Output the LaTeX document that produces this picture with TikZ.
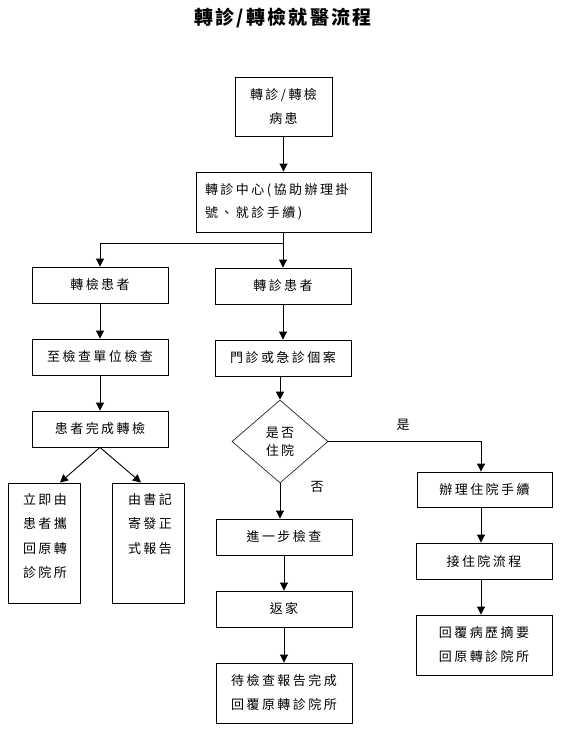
\documentclass[tikz,border=0pt]{standalone}
\usepackage{fontspec}
\setmainfont{Noto Sans CJK TC}[LetterSpace=19]
\newfontfamily\titlefont{Noto Sans CJK TC}[LetterSpace=12]
\usetikzlibrary{arrows.meta,shapes.geometric}
\begin{document}
\begin{tikzpicture}[x=1pt,y=-1pt,
  box/.style={draw, line width=0.9pt, inner sep=0pt, align=center,
    font=\fontsize{13}{24}\selectfont},
  sbox/.style={box, minimum width=136pt, minimum height=36pt},
  tbox/.style={box, minimum width=136pt, minimum height=60pt},
  decision/.style={draw=black!85, line width=0.7pt, shape=diamond, inner sep=0pt,
    minimum width=96pt, minimum height=83pt, align=center,
    font=\fontsize{13}{18}\selectfont},
  lbl/.style={inner sep=0pt, font=\fontsize{13}{24}\selectfont},
  arr/.style={line width=0.9pt, -{Triangle[width=8pt,length=8pt]}},
  ln/.style={line width=0.9pt}]
\useasboundingbox (0,0) rectangle (566,731);
% title
\node[inner sep=0pt, font=\titlefont\bfseries\fontsize{19}{20}\selectfont] (title) at (283,18) {轉診/轉檢就醫流程};
% top
\node[box, minimum width=97pt, minimum height=59pt] (p) at (283.5,106.5) {轉診/轉檢\\病患};
\node[box, minimum width=175pt, minimum height=60pt, align=left, text width=157pt,
  font=\fontsize{13}{23}\selectfont] (c) at (283.5,202) {轉診中心(協助辦理掛\\號、就診手續)};
% left column
\node[sbox] (zj) at (100,285) {轉檢患者};
\node[sbox] (zc) at (100,357) {至檢查單位檢查};
\node[sbox] (wc) at (100,429) {患者完成轉檢};
\node[box, minimum width=72pt, minimum height=120pt] (L1) at (44,543) {};
\node[box, minimum width=72pt, minimum height=120pt] (R1) at (148,543) {};
\node[lbl, anchor=north, align=left, font=\fontsize{13}{24.5}\selectfont] (L1t) at (45,493) {立即由\\患者攜\\回原轉\\診院所};
\node[lbl, anchor=north, align=left, font=\fontsize{13}{24.5}\selectfont] (R1t) at (150,493) {由書記\\寄發正\\式報告};
% middle column
\node[sbox] (zz) at (283,286) {轉診患者};
\node[sbox] (mz) at (283,358) {門診或急診個案};
\node[decision] (d) at (280,441.5) {是否\\住院};
\node[sbox] (jin) at (284,537) {進一步檢查};
\node[sbox] (fan) at (284,609) {返家};
\node[tbox] (dai) at (284,693) {待檢查報告完成\\回覆原轉診院所};
% right column
\node[box, minimum width=135pt, minimum height=35pt] (bl) at (484.5,489.5) {辦理住院手續};
\node[sbox] (jie) at (484,561) {接住院流程};
\node[tbox] (hui) at (484,645) {回覆病歷摘要\\回原轉診院所};
% labels
\node[lbl] (yes) at (403,425) {是};
\node[lbl] (no) at (317,487) {否};
% connectors
\coordinate (br) at (283,243);
\draw[arr] (p.south) -- (p.south |- c.north);
\draw[arr] (c.south -| zz.north) -- (zz.north);
\draw[arr] (br) -| (zj.north);
\draw[arr] (zj) -- (zc);
\draw[arr] (zc) -- (wc);
\draw[arr] (wc.south) -- ([xshift=16pt]L1.north);
\draw[arr] (wc.south) -- ([xshift=-7pt]R1.north);
\draw[arr] (zz) -- (mz);
\draw[arr] (mz.south -| d.north) -- (d.north);
\draw[arr] (d.east) -| (bl.north -| 481,0);
\draw[arr] (d.south) -- (d.south |- jin.north);
\draw[arr] (jin) -- (fan);
\draw[arr] (fan) -- (dai);
\draw[arr] (bl.south -| 481,0) -- (jie.north -| 481,0);
\draw[arr] (jie.south -| 481,0) -- (hui.north -| 481,0);
\end{tikzpicture}
\end{document}
